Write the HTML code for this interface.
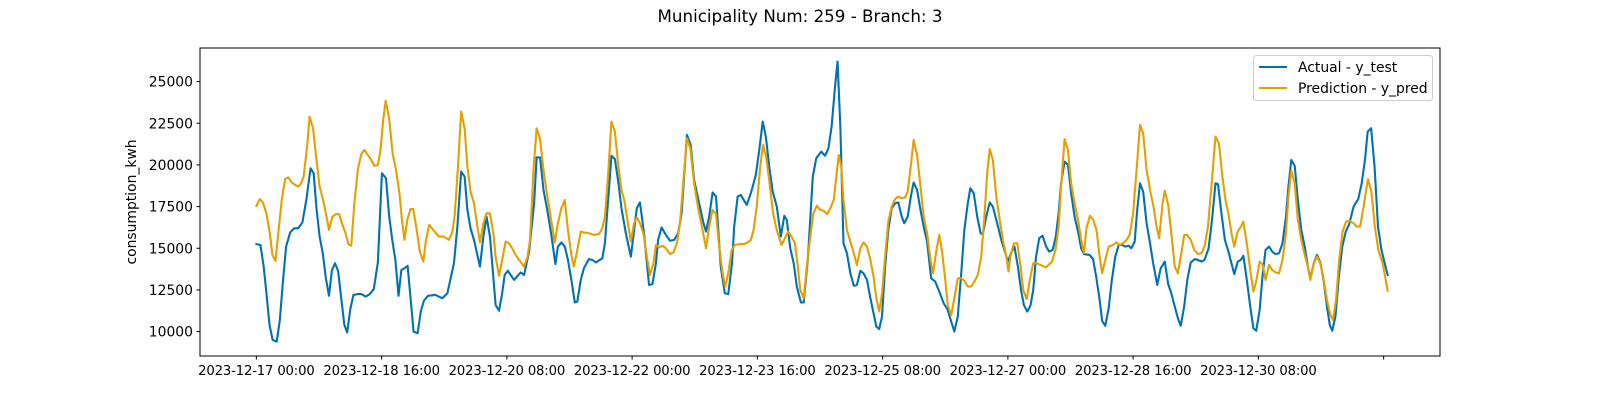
<!DOCTYPE html>
<html><head><meta charset="utf-8"><style>
html,body{margin:0;padding:0;background:#fff;}
svg{display:block;font-family:"DejaVu Sans","Liberation Sans",sans-serif;}
</style></head><body>
<svg id="chart" width="1600" height="400" viewBox="0 0 1600 400" xmlns="http://www.w3.org/2000/svg">
<rect x="0" y="0" width="1600" height="400" fill="#fff"/>
<text x="800" y="22" text-anchor="middle" font-size="16.7" fill="#000">Municipality Num: 259 - Branch: 3</text>
<g id="plot"></g>
<g id="axes"></g>
<text transform="translate(136,202) rotate(-90)" text-anchor="middle" font-size="13.9" fill="#000">consumption_kwh</text>
<g>
<rect x="1253.5" y="55.5" width="179" height="45" rx="3" fill="#fff" fill-opacity="0.8" stroke="#ccc" stroke-width="1"/>
<g>
<line x1="1259" y1="67" x2="1287" y2="67" stroke="#0072B2" stroke-width="2.1"/>
<text x="1298" y="72" font-size="13.9" fill="#000">Actual - y_test</text>
</g>
<g>
<line x1="1259" y1="88" x2="1287" y2="88" stroke="#E69F00" stroke-width="2.1"/>
<text x="1298" y="93" font-size="13.9" fill="#000">Prediction - y_pred</text>
</g>
</g>
</svg>
<script>
const actualHours=[0.0,1.3,2.3,3.3,4.2,5.2,6.5,7.5,8.5,9.5,10.8,12.1,13.4,14.7,16.0,17.3,18.3,19.2,20.2,21.2,22.2,23.2,24.1,25.1,26.1,27.1,28.1,29.0,30.0,31.0,32.3,33.6,34.9,36.2,37.5,38.8,40.1,41.4,42.4,43.4,44.4,45.4,46.3,47.3,48.3,49.3,50.2,51.5,52.5,53.5,54.8,57.2,59.4,61.0,63.1,64.2,65.4,66.5,67.4,68.4,69.5,71.4,72.5,73.5,74.6,75.4,76.4,77.5,78.5,79.3,80.3,82.3,84.4,85.5,87.1,88.7,89.5,90.6,91.7,92.9,94.2,95.5,96.3,97.4,98.5,99.5,100.6,101.7,102.5,103.6,104.6,106.2,107.3,108.4,110.5,111.3,112.1,113.4,114.5,115.5,116.6,118.0,119.6,121.5,122.5,123.8,125.4,126.5,127.6,128.3,129.4,130.8,132.1,133.4,134.7,135.8,136.6,137.5,138.7,139.8,141.4,142.8,143.6,144.6,145.7,146.8,148.3,149.6,150.7,151.9,152.6,153.7,154.7,156.6,157.9,158.8,159.5,160.6,161.7,162.7,163.8,164.9,166.2,167.5,168.6,169.4,170.5,171.6,172.6,173.9,174.8,176.1,177.7,178.8,180.4,181.6,182.7,183.7,184.8,185.6,186.5,187.5,188.6,189.7,190.8,191.8,192.9,193.9,195.0,196.1,197.1,198.0,198.9,199.8,200.8,201.8,202.9,204.0,205.0,206.1,206.9,208.0,209.1,209.9,211.0,212.1,213.1,214.2,215.5,216.8,218.1,219.5,220.8,221.9,222.9,224.0,225.1,226.1,227.2,228.0,229.1,230.2,231.3,232.0,233.1,234.2,235.2,236.6,237.9,238.9,240.0,241.0,242.1,243.2,244.2,245.1,246.2,247.2,248.1,249.0,250.0,251.1,252.2,253.2,254.3,255.3,256.2,257.0,258.1,259.2,260.2,261.3,262.4,263.4,264.3,266.1,267.2,268.2,269.3,270.1,271.1,272.2,273.2,274.3,275.4,276.4,277.5,278.6,279.4,280.5,281.3,282.2,283.2,284.3,285.4,286.4,287.7,288.8,290.1,291.2,292.2,293.3,294.3,295.2,296.3,297.3,298.4,299.7,300.7,301.8,302.8,304.1,305.2,306.3,307.1,308.2,309.3,310.3,311.4,312.3,313.4,314.4,315.2,316.3,317.4,318.4,319.3,320.4,321.4,322.3,323.4,324.4,325.5,326.6,327.7,328.8,329.6,330.5,331.6,332.6,333.7,334.8,335.8,336.6,337.7,338.7,339.8,340.9,341.9,342.8,343.6,344.6,345.7,346.8,347.9,349.0,350.4,351.9,353.0,354.1,354.9,356.0,357.1,358.2,359.3,360.6,361.3];
const actualValues=[15250,15200,13950,12150,10400,9500,9400,10700,13050,15100,15950,16200,16200,16550,17950,19800,19500,17400,15700,14700,13200,12150,13650,14100,13650,12000,10400,9950,11350,12200,12250,12250,12100,12250,12550,14150,19500,19200,16950,15500,14300,12150,13700,13800,13950,11900,10000,9900,11200,11850,12150,12200,12000,12300,14100,16300,19600,19300,17300,16200,15500,13900,15700,16900,15700,13900,11600,11250,12300,13400,13650,13100,13550,13400,14800,17700,20450,20450,18500,17300,15800,14050,15100,15350,15100,14300,13100,11750,11800,13100,13800,14350,14300,14150,14400,15300,17300,20550,20350,19100,17400,15900,14500,17400,17750,15900,12800,12850,14100,15500,16250,15800,15450,15500,15900,17100,19300,21800,21200,19100,17700,16500,16000,16900,18350,18100,13900,12300,12250,14100,16300,18100,18200,17600,18300,18900,19400,20900,22600,21700,19900,18400,17500,15700,16950,16700,15000,14100,12700,11750,11750,14300,19300,20400,20800,20550,21000,22300,24700,26200,22300,15300,14700,13500,12750,12800,13650,13500,13100,12000,11100,10300,10150,10900,13900,16100,17400,17700,17750,16900,16500,16900,18200,18950,18500,17300,16300,15400,13200,13000,12400,11700,11300,10600,10000,10900,13500,16100,17700,18600,18300,16900,15900,15850,16900,17750,17500,16500,15500,14900,14200,14700,15100,13900,12500,11600,11200,11550,12500,14500,15600,15750,15100,14800,14900,15700,17100,18900,20200,20000,18300,16900,16000,15000,14650,14600,14350,13300,11900,10650,10350,11400,13100,14500,15200,15200,15100,15150,15000,15400,17300,18900,18400,16500,15300,14100,12800,13800,14200,12850,12300,11500,10800,10350,11500,13100,14150,14350,14300,14200,14300,15000,16700,18900,18850,17100,15500,14900,14100,13450,14200,14300,14550,13100,11500,10200,10050,11300,13500,14900,15100,14800,14650,14700,15300,16900,18700,20300,19950,17900,16100,15100,13900,13200,14100,14600,14150,13000,11500,10400,10050,10900,13300,15100,16000,16450,17500,17950,18900,20400,22000,22200,19900,16300,14900,13900,13400];
const predHours=[0.0,1.1,2.1,3.2,4.3,5.1,6.1,7.0,8.1,9.2,10.2,11.3,12.4,13.4,14.3,15.1,16.2,17.0,18.1,19.2,20.2,21.3,22.2,23.2,24.3,25.4,26.4,27.5,28.5,29.4,30.3,31.3,32.4,33.5,34.5,35.6,36.7,37.7,38.8,39.6,40.5,41.3,42.4,43.5,44.6,45.7,46.5,47.3,48.2,49.2,50.1,51.2,52.2,53.3,54.1,55.2,56.7,58.3,59.9,61.5,62.6,63.3,64.4,65.4,66.5,67.4,68.4,69.5,70.6,71.4,72.5,73.5,74.6,75.7,76.4,77.5,78.5,79.6,80.7,81.7,82.8,83.9,85.5,86.6,87.4,88.5,89.5,90.6,91.7,92.7,93.8,95.3,96.3,97.4,98.5,99.5,100.6,101.4,102.5,103.6,104.6,106.2,107.8,109.4,110.5,111.3,112.3,113.4,114.5,115.5,116.6,117.6,118.5,119.6,120.6,121.5,122.5,123.6,124.7,125.7,126.8,127.6,128.6,129.7,130.8,132.1,133.2,134.3,135.3,136.4,137.5,138.6,139.8,141.1,142.5,143.6,144.6,145.7,146.8,147.8,148.9,149.7,150.7,151.8,152.8,154.2,155.8,156.9,157.9,158.8,159.8,160.9,161.8,162.8,163.9,165.0,166.2,167.7,168.8,169.8,170.9,172.0,172.8,173.7,174.8,175.8,176.9,177.9,179.0,180.1,181.2,182.3,183.3,184.4,185.2,186.0,186.8,187.5,188.6,189.7,190.8,191.8,192.9,193.9,195.0,196.1,197.1,198.0,198.9,199.8,200.8,201.8,202.9,204.0,205.0,206.1,207.2,208.0,209.1,209.9,211.0,212.1,213.1,214.2,215.3,216.1,217.2,218.1,218.9,219.9,220.8,221.9,222.9,224.0,225.1,226.1,227.2,228.3,229.3,230.4,231.5,232.5,233.4,234.2,235.2,236.3,237.4,238.4,239.5,240.2,240.8,241.9,243.0,244.0,244.9,246.0,247.0,248.1,249.1,250.4,252.2,254.1,255.2,256.2,257.0,258.1,259.2,260.2,261.3,262.4,263.4,264.3,265.1,266.2,267.3,268.3,269.3,270.1,271.1,272.2,273.6,274.7,275.7,276.8,277.9,278.9,280.0,281.1,282.2,283.2,284.3,285.4,286.5,287.5,288.3,289.4,290.1,291.2,292.2,293.3,294.3,295.4,296.3,297.3,298.4,299.5,300.7,301.8,302.8,303.9,305.0,306.3,307.4,308.5,309.5,310.6,311.4,312.3,313.4,314.4,315.2,316.3,317.4,318.4,319.3,320.4,321.4,322.3,323.4,324.4,325.5,326.6,327.7,328.8,329.6,330.5,331.6,332.6,333.7,334.8,335.8,336.6,337.7,338.7,339.8,340.9,341.9,343.0,343.8,344.8,345.8,346.9,348.0,349.0,350.4,351.4,352.5,353.6,355.0,356.1,357.2,358.3,359.7,361.3];
const predValues=[17540,17950,17750,17100,15900,14600,14250,15900,17900,19150,19250,18950,18800,18700,18900,19300,21100,22900,22200,20300,18700,17900,17100,16100,16900,17050,17050,16400,15900,15250,15150,17700,19700,20650,20900,20600,20300,19950,20000,20800,22700,23850,22800,20700,19700,18300,16700,15500,16700,17350,17350,16100,14800,14200,15400,16400,16050,15700,15700,15500,16000,16900,19900,23200,22200,19900,18400,17700,16300,15350,16500,17100,17100,15900,14500,13350,14300,15400,15300,15000,14600,14300,13900,14500,15500,19700,22200,21550,19700,18400,17100,15350,16500,17400,17900,16100,14600,13900,14900,16000,15950,15900,15800,15850,16200,16900,19300,22600,22000,20100,18500,17800,16700,15400,16500,16850,16500,15900,14500,13400,14100,15200,15050,15150,15000,14650,14750,15300,16500,19100,21600,21000,18900,17400,16100,15000,16300,17300,17050,15100,13500,12700,13500,14900,15200,15250,15250,15350,15500,16100,17500,19900,21200,20500,18900,17100,16100,15200,15600,16000,15700,15300,14100,12500,12000,13900,15700,17100,17550,17300,17250,17050,17400,17900,19300,20600,19900,17900,16100,15400,14700,14000,15000,15350,15100,14300,13300,12000,11200,12300,14500,16600,17500,17950,18100,18000,18050,18400,20100,21500,20600,18700,16900,15900,14300,13500,14900,15800,14900,13300,11600,11000,12000,13200,13200,13050,12700,12700,13000,13400,14500,16900,19500,20950,20300,18100,16700,15500,14500,13600,14500,15300,15300,14000,12500,11950,13100,14100,14100,14000,13850,14200,14900,16300,18700,21550,20900,18900,17700,16700,15500,14700,16200,16950,16700,16100,14500,13500,14300,15100,15200,15350,15200,15300,15500,15800,17100,19700,22400,21900,19700,18500,17500,16300,15600,17700,18450,17600,15900,13900,13500,14700,15800,15800,15500,14900,14650,14700,15100,16300,18700,21700,21300,19300,17900,16900,15900,15100,16000,16300,16600,15300,13700,12400,13000,14200,14000,13100,14000,13700,13550,13500,14300,15900,18100,19650,18900,16700,15500,14600,13900,13100,14100,14500,14100,13100,11900,11000,10700,11900,14300,16000,16600,16650,16500,16300,16300,17500,19150,18400,16300,14900,14100,12450];
const yTickValues=[10000,12500,15000,17500,20000,22500,25000];
const xTickHours=[0,40,80,120,160,200,240,280,320,360];
const xTickLabels=["2023-12-17 00:00","2023-12-18 16:00","2023-12-20 08:00","2023-12-22 00:00","2023-12-23 16:00","2023-12-25 08:00","2023-12-27 00:00","2023-12-28 16:00","2023-12-30 08:00",""];

const NS="http://www.w3.org/2000/svg";
const L=200,R=1440,T=48,B=356;
const X0=-18,X1=378,Y0=8536,Y1=27016;
function xs(h){return L+(h-X0)/(X1-X0)*(R-L);}
function ys(v){return B-(v-Y0)/(Y1-Y0)*(B-T);}
function mk(tag,attrs,parent){const e=document.createElementNS(NS,tag);for(const k in attrs)e.setAttribute(k,attrs[k]);parent.appendChild(e);return e;}
const plot=document.getElementById('plot');
const axes=document.getElementById('axes');
function drawLine(hours,vals,color,name){
  let d="";
  for(let i=0;i<hours.length;i++){d+=(i?"L":"M")+xs(hours[i]).toFixed(2)+","+ys(vals[i]).toFixed(2);}
  const p=mk('path',{d:d,fill:'none',stroke:color,'stroke-width':2.1,'stroke-linejoin':'round','stroke-linecap':'square'},plot);
  
  
}
drawLine(actualHours,actualValues,'#0072B2','actual-series-line');
drawLine(predHours,predValues,'#E69F00','prediction-series-line');
const frame=mk('rect',{x:L,y:T,width:R-L,height:B-T,fill:'none',stroke:'#000','stroke-width':1},axes);


yTickValues.forEach(v=>{
  const y=ys(v);
  const t=mk('line',{x1:L-3.5,y1:y,x2:L,y2:y,stroke:'#000','stroke-width':1},axes);
  
  
  const lb=mk('text',{x:L-7,y:y+5,'text-anchor':'end','font-size':13.9,fill:'#000'},axes);
  lb.textContent=String(v);
  
  
});
xTickHours.forEach((h,i)=>{
  const x=xs(h);
  const t=mk('line',{x1:x,y1:B,x2:x,y2:B+3.5,stroke:'#000','stroke-width':1},axes);
  
  
  const lb=mk('text',{x:x,y:B+19,'text-anchor':'middle','font-size':13.2,'letter-spacing':'-0.15',fill:'#000'},axes);
  lb.textContent=xTickLabels[i];
  
  
});
</script>
</body></html>
